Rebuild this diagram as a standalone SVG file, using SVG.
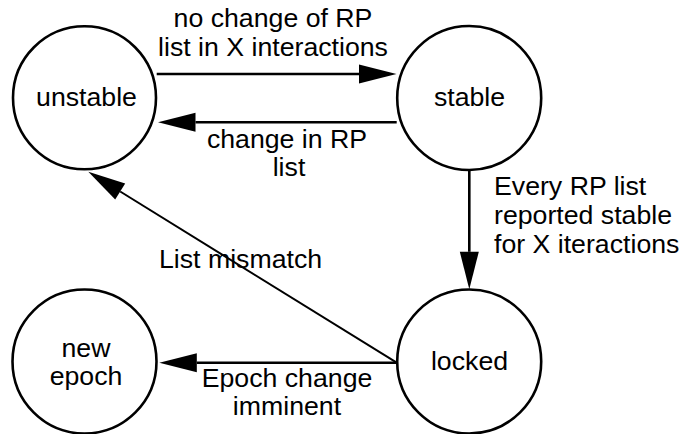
<svg xmlns="http://www.w3.org/2000/svg" width="680" height="434" viewBox="0 0 680 434">
<style>
.node circle{fill:#fff;stroke:#000;stroke-width:2.6}
text{font-family:"Liberation Sans",Arial,Helvetica,sans-serif;font-size:26.7px;fill:#000}
.c{text-anchor:middle}
.edge{fill:none;stroke:#000;stroke-width:2.6;marker-end:url(#ah)}
</style>
<defs>
<marker id="ah" markerUnits="userSpaceOnUse" markerWidth="40" markerHeight="22" viewBox="0 -11 40 22" refX="0" refY="0" orient="auto" overflow="visible">
<path d="M0,-9.5 L37.5,0 L0,9.5 z" fill="#000"/>
</marker>
</defs>
<g id="connectors">
<path class="edge" d="M156.7,74 L359,74"/>
<path class="edge" d="M396.7,122.3 L195.5,122.3"/>
<path class="edge" d="M469.3,170.7 L469.3,251.8"/>
<path class="edge" d="M396.7,362.7 L196.8,362.7"/>
<path class="edge" style="stroke-width:2" d="M396.7,362.7 L120.2,191.5"/>
<text class="c" x="273" y="26.5">no change of RP</text>
<text class="c" x="273" y="55.5">list in X interactions</text>
<text class="c" x="287" y="148">change in RP</text>
<text class="c" x="289" y="176">list</text>
<text x="494" y="195">Every RP list</text>
<text x="494" y="224">reported stable</text>
<text x="494" y="253">for X iteractions</text>
<text x="159" y="268">List mismatch</text>
<text class="c" x="287" y="387">Epoch change</text>
<text class="c" x="287" y="415">imminent</text>
</g>
<g id="unstable" class="node">
<circle cx="84.5" cy="97.8" r="71.5"/>
<text class="c" x="86.5" y="106">unstable</text>
</g>
<g id="stable" class="node">
<circle cx="469.2" cy="98" r="72"/>
<text class="c" x="469.5" y="106">stable</text>
</g>
<g id="new-epoch" class="node">
<circle cx="84.5" cy="361.5" r="72"/>
<text class="c" x="86" y="357">new</text>
<text class="c" x="86" y="385">epoch</text>
</g>
<g id="locked" class="node">
<circle cx="469.2" cy="361.5" r="72"/>
<text class="c" x="469.5" y="370">locked</text>
</g>
</svg>
